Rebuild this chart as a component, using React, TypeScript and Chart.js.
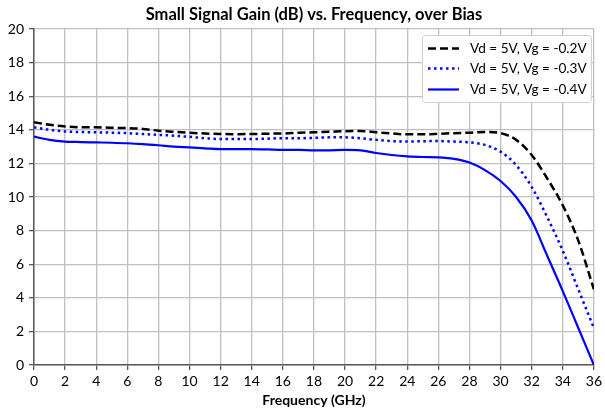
import React, { useEffect, useRef } from "react";
import { Chart, registerables } from "chart.js";

Chart.register(...registerables);

const freqGHz = [0,1,2,3,4,5,6,7,8,9,10,11,12,13,14,15,16,17,18,19,20,21,22,23,24,25,26,27,28,29,30,31,32,33,34,35,36];

const gainVg02 = [14.45,14.3,14.2,14.15,14.15,14.12,14.1,14.05,13.95,13.88,13.82,13.78,13.75,13.74,13.75,13.77,13.78,13.82,13.85,13.88,13.92,13.93,13.85,13.78,13.73,13.73,13.76,13.8,13.83,13.87,13.8,13.4,12.5,11.1,9.5,7.4,4.5];
const gainVg03 = [14.15,14.0,13.9,13.87,13.85,13.83,13.8,13.75,13.7,13.65,13.58,13.5,13.45,13.45,13.45,13.47,13.5,13.5,13.52,13.55,13.55,13.5,13.4,13.33,13.3,13.32,13.33,13.3,13.25,13.1,12.7,11.9,10.6,8.8,6.8,4.5,2.2];
const gainVg04 = [13.6,13.4,13.3,13.27,13.25,13.23,13.2,13.15,13.08,13.0,12.95,12.9,12.85,12.85,12.85,12.83,12.8,12.8,12.77,12.78,12.8,12.78,12.62,12.5,12.42,12.38,12.36,12.27,12.05,11.6,10.95,10.0,8.6,6.5,4.4,2.2,0.0];

const seriesLabels = ["Vd = 5V, Vg = -0.2V", "Vd = 5V, Vg = -0.3V", "Vd = 5V, Vg = -0.4V"];
const titleText = "Small Signal Gain (dB) vs. Frequency, over Bias";
const xAxisTitle = "Frequency (GHz)";

const FONT = "Lato, 'DejaVu Sans', sans-serif";

const legendPlugin = {
  id: "boxLegend",
  afterDraw(chart: any) {
    const ctx = chart.ctx;
    const area = chart.chartArea;
    ctx.save();
    // title
    ctx.font = `bold 16.5px ${FONT}`;
    ctx.fillStyle = "#000";
    ctx.textAlign = "center";
    ctx.textBaseline = "middle";
    ctx.fillText(titleText, (area.left + area.right) / 2, 15);

    // legend box
    const bx = 422, by = 35, bw = 169, bh = 67;
    ctx.fillStyle = "#fff";
    ctx.strokeStyle = "#d0d0d0";
    ctx.lineWidth = 1;
    ctx.beginPath();
    if ((ctx as any).roundRect) (ctx as any).roundRect(bx + 0.5, by + 0.5, bw, bh, 3);
    else ctx.rect(bx + 0.5, by + 0.5, bw, bh);
    ctx.fill();
    ctx.stroke();
    const rows = [48.5, 68.5, 89.5];
    chart.data.datasets.forEach((ds: any, i: number) => {
      const y = rows[i];
      ctx.beginPath();
      ctx.strokeStyle = ds.borderColor;
      ctx.lineWidth = ds.borderWidth;
      ctx.setLineDash(ds.borderDash || []);
      ctx.lineCap = "butt";
      ctx.moveTo(428, y);
      ctx.lineTo(459, y);
      ctx.stroke();
      ctx.setLineDash([]);
      ctx.fillStyle = "#000";
      ctx.font = `13.6px ${FONT}`;
      ctx.textAlign = "left";
      ctx.textBaseline = "middle";
      ctx.fillText(ds.label, 470, y);
    });
    ctx.restore();
  },
};

export default function App() {
  const ref = useRef<HTMLCanvasElement | null>(null);
  useEffect(() => {
    if (!ref.current) return;
    const mk = (vals: number[]) => freqGHz.map((f, i) => ({ x: f, y: vals[i] }));
    const chart = new Chart(ref.current, {
      type: "line",
      data: {
        datasets: [
          { label: seriesLabels[0], data: mk(gainVg02), borderColor: "#000000", borderWidth: 2.5, borderDash: [8, 4], pointRadius: 0, cubicInterpolationMode: "monotone", fill: false },
          { label: seriesLabels[1], data: mk(gainVg03), borderColor: "#0000ff", borderWidth: 2.5, borderDash: [2.5, 3.5], pointRadius: 0, cubicInterpolationMode: "monotone", fill: false },
          { label: seriesLabels[2], data: mk(gainVg04), borderColor: "#0000ff", borderWidth: 2.2, pointRadius: 0, cubicInterpolationMode: "monotone", fill: false },
        ],
      },
      options: {
        animation: false,
        responsive: false,
        maintainAspectRatio: false,
        layout: { padding: { top: 29, right: 8, left: 0, bottom: 0 } },
        plugins: { legend: { display: false }, title: { display: false }, tooltip: { enabled: false } },
        scales: {
          x: {
            type: "linear",
            min: 0,
            max: 36,
            ticks: { stepSize: 2, color: "#000", font: { family: FONT, size: 14 }, padding: 3, maxRotation: 0, autoSkip: false },
            grid: { color: "#c0c0c0", lineWidth: 1.3, tickColor: "#595959", tickLength: 5 },
            border: { display: true, color: "#595959", width: 1.5 },
            title: { display: true, text: xAxisTitle, color: "#000", font: { family: FONT, size: 14, weight: "bold" }, padding: { top: 0, bottom: 3 } },
            afterFit: (s: any) => { s.height = 47; },
          },
          y: {
            min: 0,
            max: 20,
            ticks: { stepSize: 2, color: "#000", font: { family: FONT, size: 14 }, padding: 5 },
            grid: { color: "#c0c0c0", lineWidth: 1.3, tickColor: "#595959", tickLength: 5 },
            border: { display: true, color: "#595959", width: 1.5 },
            afterFit: (s: any) => { s.width = 34; },
          },
        },
      } as any,
      plugins: [legendPlugin],
    });
    return () => chart.destroy();
  }, []);
  return (
    <div style={{ position: "absolute", left: 0, top: 0, width: 605, height: 412, background: "#fff" }}>
      <canvas ref={ref} width={605} height={412} style={{ width: 605, height: 412, display: "block" }} />
    </div>
  );
}
